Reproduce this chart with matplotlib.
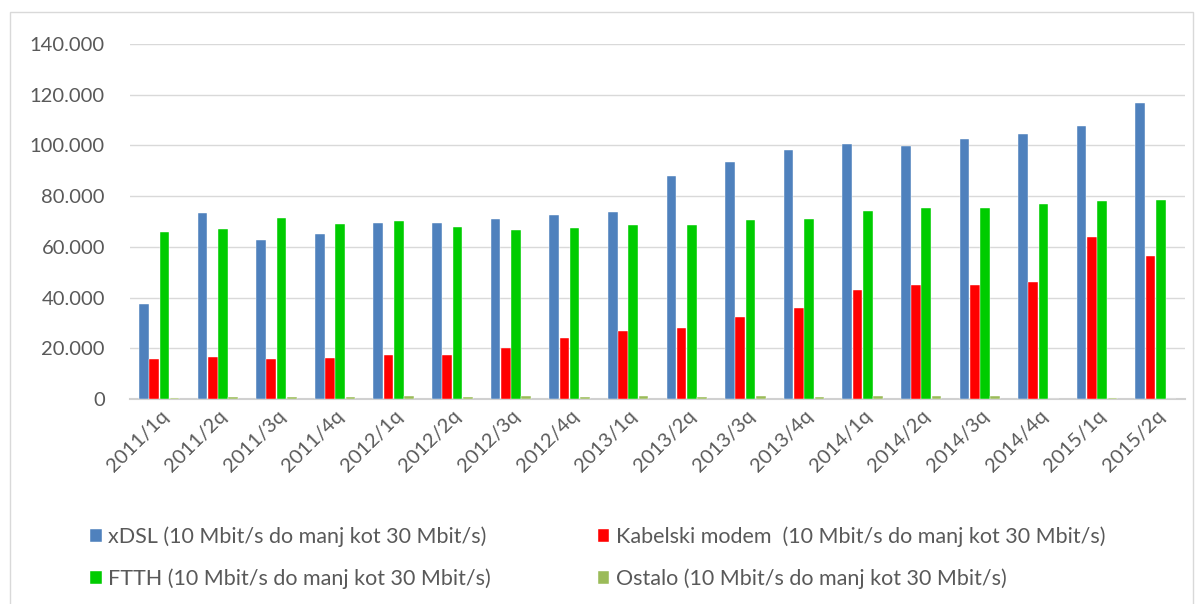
import matplotlib.pyplot as plt
import matplotlib.ticker as mticker
from matplotlib.patches import Rectangle
import numpy as np

plt.rcParams['font.family'] = ['Lato', 'DejaVu Sans']

quarters = ['2011/1q', '2011/2q', '2011/3q', '2011/4q', '2012/1q', '2012/2q',
            '2012/3q', '2012/4q', '2013/1q', '2013/2q', '2013/3q', '2013/4q',
            '2014/1q', '2014/2q', '2014/3q', '2014/4q', '2015/1q', '2015/2q']

xdsl = [37300, 73300, 62700, 65000, 69200, 69500, 70800, 72400, 73700,
        87800, 93500, 98200, 100500, 99800, 102500, 104300, 107500, 116700]
kabel = [15800, 16500, 15800, 16000, 17200, 17400, 20300, 24100, 26700,
         27900, 32200, 36000, 43100, 44800, 44800, 46000, 63900, 56400]
ftth = [65900, 67100, 71400, 69100, 70000, 68000, 66700, 67600, 68600,
        68600, 70400, 71000, 74300, 75200, 75400, 76900, 78100, 78600]
ostalo = [300, 800, 800, 800, 1000, 900, 1100, 800, 1000,
          900, 1000, 900, 1000, 1200, 1100, 100, 300, 100]

labels = ['xDSL (10 Mbit/s do manj kot 30 Mbit/s)',
          'Kabelski modem  (10 Mbit/s do manj kot 30 Mbit/s)',
          'FTTH (10 Mbit/s do manj kot 30 Mbit/s)',
          'Ostalo (10 Mbit/s do manj kot 30 Mbit/s)']
colors = ['#4F81BD', '#FF0000', '#00CC00', '#9BBB59']
series = [xdsl, kabel, ftth, ostalo]

fig = plt.figure(figsize=(12.03, 6.04), dpi=100)
ax = fig.add_axes([0.108, 0.3394, 0.877, 0.588])

x = np.arange(len(quarters))
w = 0.165
handles = []
for i, (vals, col) in enumerate(zip(series, colors)):
    b = ax.bar(x + (i - 1.5) * (w + 0.01), vals, width=w, color=col,
               edgecolor='white', linewidth=0.3, zorder=3)
    handles.append(b)

ax.set_xlim(-0.5, len(quarters) - 0.5)
ax.set_ylim(0, 140000)
ax.set_yticks(range(0, 140001, 20000))
ax.yaxis.set_major_formatter(mticker.FuncFormatter(
    lambda v, p: f"{int(v):,}".replace(",", ".")))
ax.grid(axis='y', color='#d9d9d9', linewidth=1, zorder=0)
for s in ['top', 'right', 'left']:
    ax.spines[s].set_visible(False)
ax.spines['bottom'].set_color('#d0d0d0')
ax.spines['bottom'].set_linewidth(1.5)
ax.tick_params(axis='both', length=0, colors='#595959', labelsize=14.5)
ax.tick_params(axis='y', pad=18)
ax.tick_params(axis='x', pad=6)
ax.set_xticks(x)
ax.set_xticklabels(quarters, rotation=45, ha='right', rotation_mode='anchor')

# legend fills column-wise, so order handles to get xDSL/Kabel on the first row
order = [0, 2, 1, 3]
fig.legend([handles[i] for i in order], [labels[i] for i in order],
           loc='upper left', bbox_to_anchor=(0.0748, 0.128),
           ncol=2, frameon=False, fontsize=15.5, labelcolor='#595959',
           borderpad=0, borderaxespad=0,
           handlelength=0.55, handleheight=0.55, handletextpad=0.3,
           columnspacing=4.95, labelspacing=1.0)

fig.patches.append(Rectangle((0.008, -0.01), 0.984, 0.99, transform=fig.transFigure,
                             fill=False, edgecolor='#d9d9d9', linewidth=1))

fig.savefig('out.png', dpi=100)
